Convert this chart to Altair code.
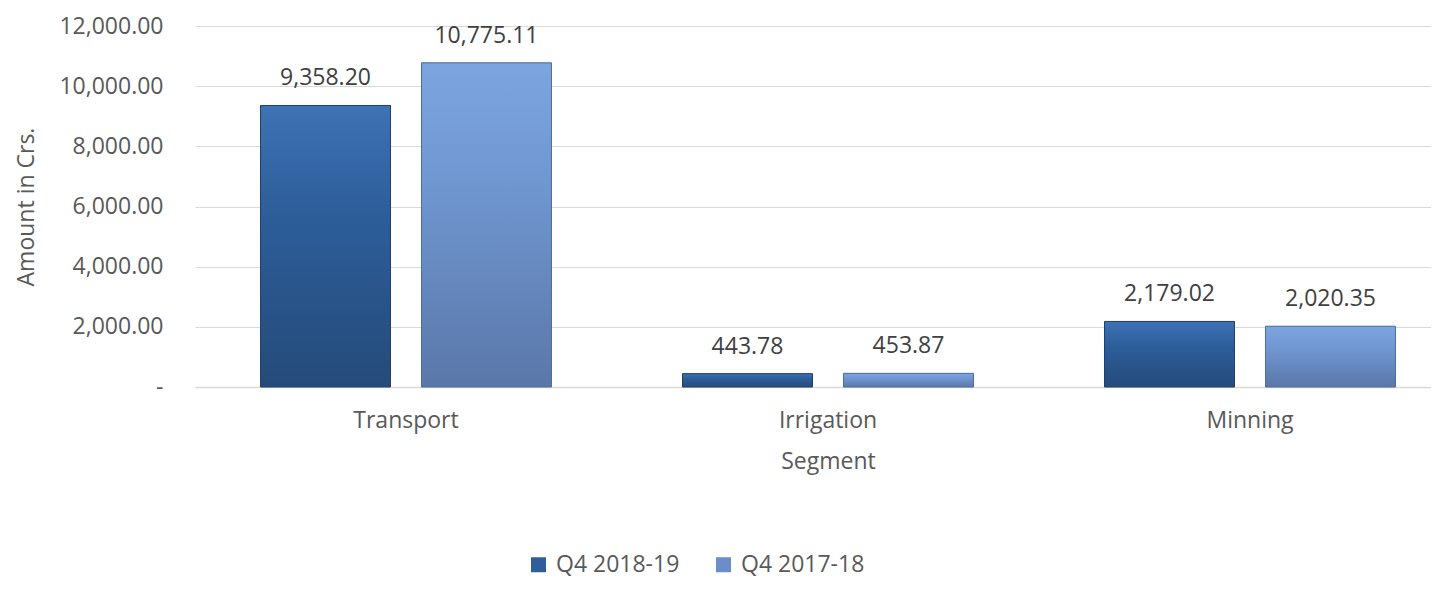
import altair as alt
import pandas as pd

segments = ["Transport", "Irrigation", "Minning"]
series = ["Q4 2018-19", "Q4 2017-18"]
q4_2018_19 = [9358.20, 443.78, 2179.02]
q4_2017_18 = [10775.11, 453.87, 2020.35]
y_ticks = [0, 2000, 4000, 6000, 8000, 10000, 12000]

rows = []
for i, s in enumerate(segments):
    rows.append({"Segment": s, "Series": series[0], "Amount": q4_2018_19[i]})
    rows.append({"Segment": s, "Series": series[1], "Amount": q4_2017_18[i]})
df = pd.DataFrame(rows)

FONT = "Open Sans"
AXIS_GRAY = "#595959"
GRID = "#d9d9d9"

x_enc = alt.X(
    "Segment:N",
    scale=alt.Scale(domain=segments, range=[0, 1266], paddingInner=0, paddingOuter=0),
    axis=alt.Axis(
        title="Segment", labelAngle=0, ticks=False, tickSize=0, labelPadding=22,
        domain=True, domainColor=GRID, domainWidth=1.5, titlePadding=18,
    ),
)
xoff_enc = alt.XOffset(
    "Series:N",
    scale=alt.Scale(domain=series, paddingInner=0.1925, paddingOuter=0.407),
)
y_enc = alt.Y(
    "Amount:Q",
    scale=alt.Scale(domain=[0, 12000], nice=False),
    axis=alt.Axis(
        title="Amount in Crs.", values=y_ticks, grid=True, gridColor=GRID,
        domain=False, ticks=False, tickSize=0, labelPadding=32, titlePadding=20,
        labelExpr="datum.value == 0 ? '-\u2002\u2009' : format(datum.value, ',.2f')",
    ),
)

legend_layer = alt.Chart(df).mark_bar().encode(
    x=x_enc,
    xOffset=xoff_enc,
    y=y_enc,
    color=alt.Color(
        "Series:N",
        title=None,
        scale=alt.Scale(domain=series, range=["#2f5e9a", "#6b8ec8"]),
        legend=alt.Legend(
            orient="none", legendX=332, legendY=527, direction="horizontal",
            symbolType="square", symbolSize=225, symbolStrokeWidth=0,
            labelFontSize=23, labelFont=FONT, labelColor=AXIS_GRAY,
            labelOffset=6, columnPadding=32,
        ),
    ),
)

grad_dark = alt.Gradient(
    gradient="linear",
    stops=[
        alt.GradientStop(color="#3d72b4", offset=0),
        alt.GradientStop(color="#2d5d99", offset=0.4),
        alt.GradientStop(color="#254b7a", offset=1),
    ],
    x1=0, x2=0, y1=0, y2=1,
)
grad_light = alt.Gradient(
    gradient="linear",
    stops=[
        alt.GradientStop(color="#7ca5df", offset=0),
        alt.GradientStop(color="#6f95cf", offset=0.4),
        alt.GradientStop(color="#5a77a9", offset=1),
    ],
    x1=0, x2=0, y1=0, y2=1,
)

dark_layer = alt.Chart(df).transform_filter(alt.datum.Series == series[0]).mark_bar(
    color=grad_dark, stroke="#203f68", strokeWidth=1
).encode(x=x_enc, xOffset=xoff_enc, y=y_enc)

light_layer = alt.Chart(df).transform_filter(alt.datum.Series == series[1]).mark_bar(
    color=grad_light, stroke="#4f6d9f", strokeWidth=1
).encode(x=x_enc, xOffset=xoff_enc, y=y_enc)

labels = alt.Chart(df).mark_text(
    dy=-20, baseline="alphabetic", fontSize=23, font=FONT, color="#404040"
).encode(
    x=x_enc, xOffset=xoff_enc, y=y_enc,
    text=alt.Text("Amount:Q", format=",.2f"),
)

chart = alt.layer(legend_layer, dark_layer, light_layer, labels).properties(
    width=1236,
    height=361,
    autosize=alt.AutoSizeParams(type="none"),
    padding={"left": 187, "top": 18, "right": 0, "bottom": 199},
).configure_view(stroke=None).configure_axis(
    labelFont=FONT, titleFont=FONT, labelFontSize=23, titleFontSize=23,
    labelColor=AXIS_GRAY, titleColor=AXIS_GRAY, titleFontWeight="normal",
).configure_legend(labelFont=FONT)

chart.save("out.html", embed_options={"renderer": "svg", "actions": False})
